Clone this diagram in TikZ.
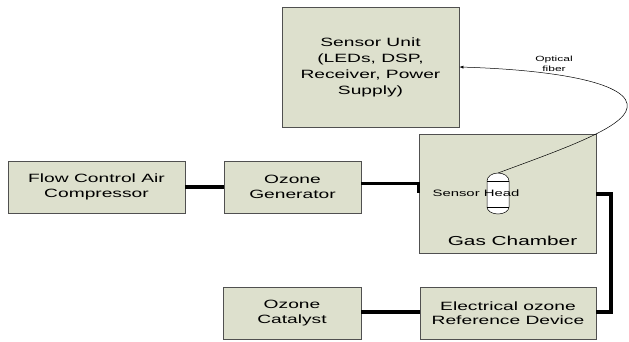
\documentclass[tikz,border=0pt]{standalone}
\usepackage{fontspec}
\setmainfont{Liberation Sans}
\newfontfamily\boxfont[FakeStretch=1.6]{Liberation Sans}
\usetikzlibrary{arrows.meta}
\definecolor{boxfill}{RGB}{221,224,205}
\definecolor{boxline}{RGB}{80,80,80}
\begin{document}
\begin{tikzpicture}[x=1pt,y=-1pt,
  blk/.style={draw=boxline,line width=0.9pt,fill=boxfill,inner sep=0pt,align=center,
    font=\boxfont\fontsize{12}{14.5}\selectfont},
  pipe/.style={line width=3.2pt,line join=miter},
  txt/.style={inner sep=0pt,align=center},
  fiber/.style={line width=0.5pt,-{Latex[length=4pt,width=3.2pt]}}]
\useasboundingbox (0,0) rectangle (629,341);
\fill[white] (0,0) rectangle (629,341);
% boxes
\node[blk,minimum width=177pt,minimum height=120pt,font=\boxfont\fontsize{12}{16}\selectfont] (su) at (370.5,67)
  {Sensor Unit\\(LEDs, DSP,\\Receiver, Power\\Supply)};
\node[blk,minimum width=177pt,minimum height=119pt] (gc) at (507.5,193.5) {};
\node[blk,minimum width=177pt,minimum height=52pt] (fc) at (96.5,187) {Flow Control Air\\Compressor};
\node[blk,minimum width=137pt,minimum height=52pt] (og) at (292.5,187) {Ozone\\Generator};
\node[blk,minimum width=138pt,minimum height=52pt] (cat) at (292,313) {Ozone\\Catalyst};
\node[blk,minimum width=176pt,minimum height=52pt] (ref) at (508,313) {Electrical ozone\\Reference Device};
\node[txt,font=\boxfont\fontsize{13}{15}\selectfont] (gcl) at (512.5,241) {Gas Chamber};
% sensor head capsule
\filldraw[draw=black,fill=white,line width=0.5pt]
  (487,181) arc[start angle=180,end angle=0,x radius=11,y radius=-8]
  -- (509,207) arc[start angle=0,end angle=-180,x radius=11,y radius=-7] -- cycle;
\draw[line width=0.5pt] (487,181) -- (509,181) (487,207) -- (509,207);
\coordinate (shtop) at (498,173);
\node[txt,font=\boxfont\fontsize{9.3}{11}\selectfont] (sh) at (476,193) {Sensor Head};
% optical fiber
\coordinate (fturn) at (627,108);
\draw[fiber] (shtop) .. controls (560,150) and (624,128) .. (fturn)
  .. controls (632,84) and (560,70) .. (su.east |- 0,67);
\node[txt,font=\boxfont\fontsize{7.5}{10.5}\selectfont] (of) at (554,64) {Optical\\fiber};
% pipes
\draw[pipe] (fc.east) -- (og.west);
\draw[pipe] (og.east |- 0,183.5) -- (gc.west |- 0,183.5) -- (gc.west |- 0,193);
\draw[pipe] (gc.east |- 0,194) -- (611,194) -- (611,312) -- (ref.east |- 0,312);
\draw[pipe] (ref.west |- 0,312) -- (cat.east |- 0,312);
\end{tikzpicture}
\end{document}
